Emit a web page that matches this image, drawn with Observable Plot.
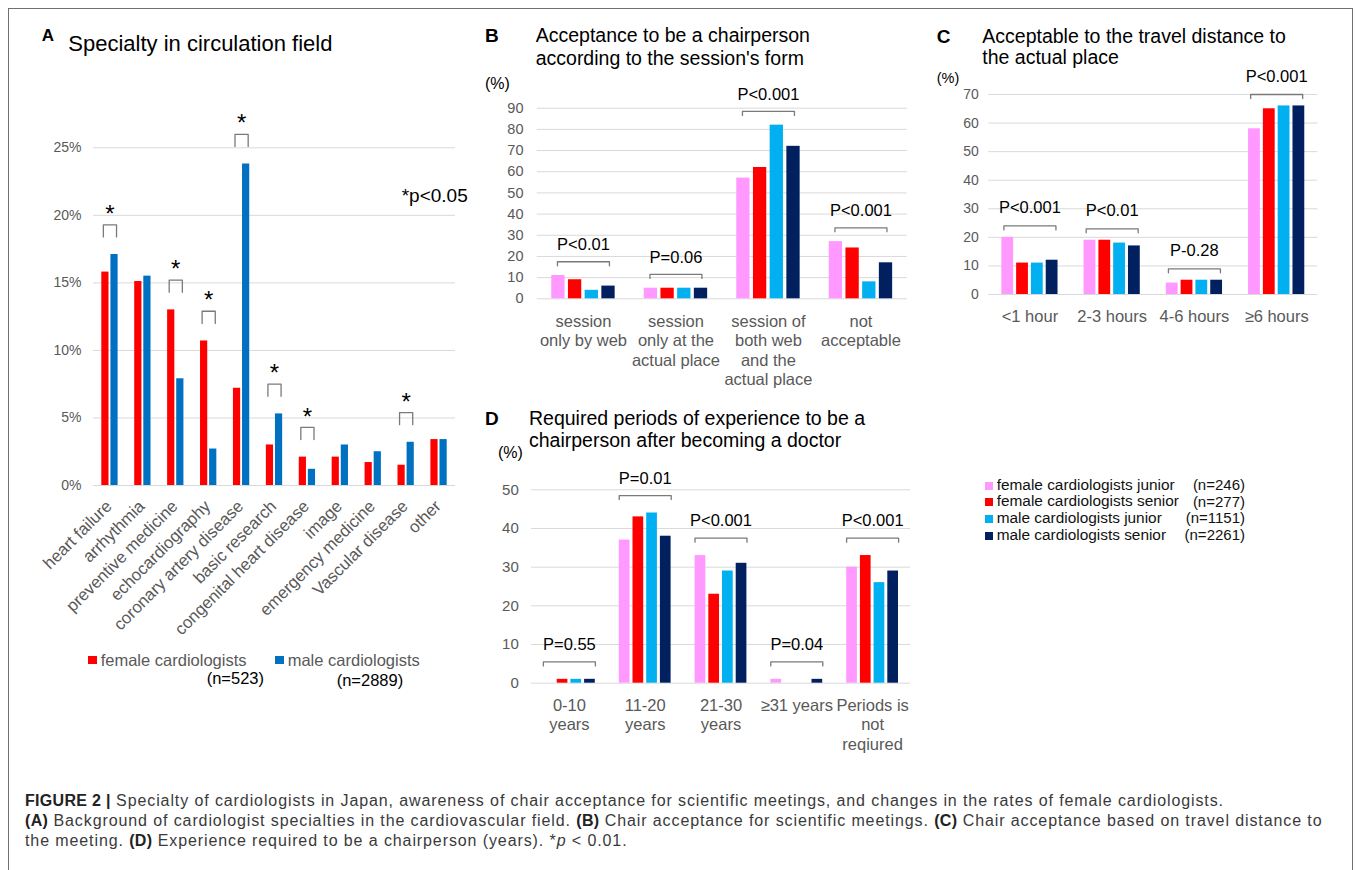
<!DOCTYPE html>
<html><head><meta charset="utf-8">
<script src="https://cdn.jsdelivr.net/npm/d3@7"></script>
<script src="https://cdn.jsdelivr.net/npm/@observablehq/plot@0.6"></script>
<style>
body{margin:0;background:#fff;}
#root{position:relative;width:1357px;height:870px;overflow:hidden;font-family:"Liberation Sans",Arial,Helvetica,sans-serif;background:#fff;}
#frame{position:absolute;left:8px;top:8px;width:1345px;height:900px;border:1px solid #707070;box-sizing:border-box;}
#root svg{overflow:visible;display:block;}
</style></head>
<body><div id="root"><div id="frame"></div></div>
<script>
// ---------- DATA ----------
// Panel A
const specialtyCategories = ["heart failure","arrhythmia","preventive medicine","echocardiography","coronary artery disease","basic research","congenital heart disease","image","emergency medicine","Vascular disease","other"];
const femaleSpecialty = [15.8,15.1,13.0,10.7,7.2,3.0,2.1,2.1,1.7,1.5,3.4];
const maleSpecialty   = [17.1,15.5,7.9,2.7,23.8,5.3,1.2,3.0,2.5,3.2,3.4];
const specialtySignificant = [true,false,true,true,true,true,true,false,false,true,false];
const specialtyTicks = [0,5,10,15,20,25];
const specialtySeries = ["female cardiologists","male cardiologists"];
const specialtyN = ["(n=523)","(n=2889)"];

// Groups for panels B-D
const groupNames = ["female cardiologists junior","female cardiologists senior","male cardiologists junior","male cardiologists senior"];
const groupN = ["(n=246)","(n=277)","(n=1151)","(n=2261)"];

// Panel B
const sessionCategories = ["session\nonly by web","session\nonly at the\nactual place","session of\nboth web\nand the\nactual place","not\nacceptable"];
const sessionFemaleJunior = [11,5,57,27];
const sessionFemaleSenior = [9,5,62,24];
const sessionMaleJunior   = [4,5,82,8];
const sessionMaleSenior   = [6,5,72,17];
const sessionP = ["P<0.01","P=0.06","P<0.001","P<0.001"];
const sessionTicks = [0,10,20,30,40,50,60,70,80,90];

// Panel C
const travelCategories = ["<1 hour","2-3 hours","4-6 hours","≥6 hours"];
const travelFemaleJunior = [20,19,4,58];
const travelFemaleSenior = [11,19,5,65];
const travelMaleJunior   = [11,18,5,66];
const travelMaleSenior   = [12,17,5,66];
const travelP = ["P<0.001","P<0.01","P-0.28","P<0.001"];
const travelTicks = [0,10,20,30,40,50,60,70];

// Panel D
const experienceCategories = ["0-10\nyears","11-20\nyears","21-30\nyears","≥31 years","Periods is\nnot\nreqiured"];
const expFemaleJunior = [0,37,33,1,30];
const expFemaleSenior = [1,43,23,0,33];
const expMaleJunior   = [1,44,29,0,26];
const expMaleSenior   = [1,38,31,1,29];
const experienceP = ["P=0.55","P=0.01","P<0.001","P=0.04","P<0.001"];
const experienceTicks = [0,10,20,30,40,50];

// ---------- STYLE ----------
const colorsA = ["#FF0000","#0070C0"];
const colors4 = ["#FF99FF","#FF0000","#00B0F0","#002060"];
const FONT = '"Liberation Sans", Arial, Helvetica, sans-serif';
const root = document.getElementById("root");

function place(node, left, top) {
  const d = document.createElement("div");
  d.style.cssText = `position:absolute;left:${left}px;top:${top}px;`;
  d.appendChild(node);
  root.appendChild(d);
}
function addText(html, x, base, size, o = {}) {
  const lh = o.lh || size;
  const d = document.createElement("div");
  const top = base - ((lh - 1.117 * size) / 2 + 0.905 * size);
  d.style.cssText = `position:absolute;white-space:nowrap;left:${x}px;top:${top}px;font-size:${size}px;line-height:${lh}px;color:${o.color || "#000"};font-weight:${o.bold ? "bold" : "normal"};${o.right ? "transform:translateX(-100%);" : ""}`;
  d.innerHTML = html;
  root.appendChild(d);
}
function addSquare(x, y, s, color) {
  const d = document.createElement("div");
  d.style.cssText = `position:absolute;left:${x}px;top:${y}px;width:${s}px;height:${s}px;background:${color};`;
  root.appendChild(d);
}

function panel(cfg) {
  const {cats, series, colors, ticks, fmt, left, top, width, height, ml, mr, mt, mb,
         barPx, stepPx, tickPad, tickFont, extra} = cfg;
  const n = cats.length, k = series.length;
  const bandPx = (width - ml - mr) / n;
  const yMax = ticks[ticks.length - 1];
  const pxPerUnit = (height - mt - mb) / yMax;
  const marks = [Plot.ruleY(ticks, {stroke: "#d9d9d9", strokeWidth: 1})];
  series.forEach((vals, s) => {
    const off = (s - (k - 1) / 2) * stepPx / bandPx, hw = barPx / 2 / bandPx;
    marks.push(Plot.rectY(vals, {
      x1: (d, i) => i + off - hw, x2: (d, i) => i + off + hw,
      y1: () => 0, y2: d => d, fill: colors[s]
    }));
  });
  const maxes = cats.map((c, i) => d3.max(series, v => v[i]));
  marks.push(...extra({n, bandPx, pxPerUnit, maxes}));
  const svg = Plot.plot({
    width, height, marginLeft: ml, marginRight: mr, marginTop: mt, marginBottom: mb,
    x: {domain: [-0.5, n - 0.5], axis: null},
    y: {domain: [0, yMax], ticks, tickFormat: fmt, tickSize: 0, tickPadding: tickPad, label: null},
    style: {fontFamily: FONT, fontSize: tickFont + "px", color: "#595959", background: "transparent", overflow: "visible"},
    marks
  });
  place(svg, left, top);
}

// P-value brackets for panels B-D
function pBrackets(cats, pvals, {offset, halfPx = 26, legPx = 4, textDy, labelDy, labelLH = 1.17, labelFont = 16.5}) {
  return ({bandPx, pxPerUnit, maxes}) => {
    const h = halfPx / bandPx, leg = legPx / pxPerUnit;
    const pts = [];
    maxes.forEach((m, i) => {
      const lv = m + offset;
      pts.push({i, x: i - h, y: lv - leg}, {i, x: i - h, y: lv}, {i, x: i + h, y: lv}, {i, x: i + h, y: lv - leg});
    });
    return [
      Plot.line(pts, {x: "x", y: "y", z: "i", stroke: "#7a7a7a", strokeWidth: 1.3}),
      Plot.text(pvals, {x: (d, i) => i, y: (d, i) => maxes[i] + offset, text: d => d, dy: textDy,
        fontSize: 16.5, fill: "#000", lineAnchor: "middle"}),
      Plot.text(cats, {x: (d, i) => i, y: () => 0, text: d => d, dy: labelDy, lineAnchor: "top",
        lineHeight: labelLH, fontSize: labelFont, fill: "#595959"})
    ];
  };
}

// ---------- PANEL A ----------
panel({
  cats: specialtyCategories, series: [femaleSpecialty, maleSpecialty], colors: colorsA,
  ticks: specialtyTicks, fmt: d => d + "%",
  left: 20, top: 100, width: 460, height: 560, ml: 73, mr: 25, mt: 47.3, mb: 175,
  barPx: 7.2, stepPx: 9.1, tickPad: 12, tickFont: 14,
  extra: ({bandPx, maxes}) => {
    const h = 0.2;
    const pts = [];
    const stars = [];
    specialtySignificant.forEach((sig, i) => {
      if (!sig) return;
      const m = maxes[i];
      pts.push({i, x: i - h, y: m + 1.3}, {i, x: i - h, y: m + 2.2}, {i, x: i + h, y: m + 2.2}, {i, x: i + h, y: m + 1.3});
      stars.push({i, y: m + 3.5});
    });
    return [
      Plot.line(pts, {x: "x", y: "y", z: "i", stroke: "#7a7a7a", strokeWidth: 1.3}),
      Plot.text(stars, {x: "i", y: "y", text: () => "*", fontSize: 24, dy: 7, fill: "#000"}),
      Plot.text(specialtyCategories, {x: (d, i) => i, y: () => 0, text: d => d, rotate: -45,
        textAnchor: "end", lineAnchor: "middle", dx: -1, dy: 18, fontSize: 16.8, fill: "#595959"})
    ];
  }
});

// ---------- PANEL B ----------
panel({
  cats: sessionCategories, series: [sessionFemaleJunior, sessionFemaleSenior, sessionMaleJunior, sessionMaleSenior],
  colors: colors4, ticks: sessionTicks, fmt: d => d,
  left: 480, top: 60, width: 440, height: 340, ml: 56.7, mr: 13.3, mt: 47.7, mb: 101.7,
  barPx: 13.3, stepPx: 16.7, tickPad: 13.7, tickFont: 14.5,
  extra: pBrackets(sessionCategories, sessionP, {offset: 6.5, textDy: -17, labelDy: 14.3, labelLH: 1.176})
});

// ---------- PANEL C ----------
panel({
  cats: travelCategories, series: [travelFemaleJunior, travelFemaleSenior, travelMaleJunior, travelMaleSenior],
  colors: colors4, ticks: travelTicks, fmt: d => d,
  left: 920, top: 60, width: 430, height: 280, ml: 68.3, mr: 32.7, mt: 34, mb: 46,
  barPx: 11.8, stepPx: 14.8, tickPad: 10, tickFont: 14,
  extra: pBrackets(travelCategories, travelP, {offset: 4, textDy: -18, labelDy: 13.5})
});

// ---------- PANEL D ----------
panel({
  cats: experienceCategories, series: [expFemaleJunior, expFemaleSenior, expMaleJunior, expMaleSenior],
  colors: colors4, ticks: experienceTicks, fmt: d => d,
  left: 480, top: 455, width: 440, height: 305, ml: 51, mr: 10, mt: 34.3, mb: 77.3,
  barPx: 10.7, stepPx: 13.7, tickPad: 12.7, tickFont: 15,
  extra: pBrackets(experienceCategories, experienceP, {offset: 4.5, textDy: -17, labelDy: 13.9, labelLH: 1.18})
});

// ---------- TITLES ----------
addText("A", 41.7, 41.7, 17, {bold: true});
addText("Specialty in circulation field", 68.3, 51.7, 22);
addText("*p&lt;0.05", 401.7, 202.5, 19);

addText("B", 485, 42.3, 19, {bold: true});
addText("Acceptance to be a chairperson<br>according to the session's form", 535.7, 42.3, 19.5, {lh: 22.7});
addText("(%)", 485, 90, 16);

addText("C", 936.7, 43.3, 19, {bold: true});
addText("Acceptable to the travel distance to<br>the actual place", 982.3, 43.3, 19.5, {lh: 21.7});
addText("(%)", 936.7, 83.7, 14.5);

addText("D", 485, 425, 19, {bold: true});
addText("Required periods of experience to be a<br>chairperson after becoming a doctor", 529, 425, 19.5, {lh: 22.3});
addText("(%)", 498, 458.3, 16);

// ---------- LEGEND A ----------
const legAx = [88, 275], legAnx = [206.7, 336.7], legAnb = [683.8, 685.8];
specialtySeries.forEach((name, s) => {
  addSquare(legAx[s], 655.7, 8.5, colorsA[s]);
  addText(name, legAx[s] + 12.7, 665.7, 16.5, {color: "#595959"});
  addText(specialtyN[s], legAnx[s], legAnb[s], 16.5, {color: "#000"});
});

// ---------- LEGEND B-D ----------
groupNames.forEach((name, s) => {
  const base = 489.7 + s * 16.7;
  addSquare(985, base - 8.2, 8.3, colors4[s]);
  addText(name, 996.7, base, 15.4, {color: "#111"});
  addText(groupN[s], 1245, base, 15, {color: "#111", right: true});
});

// ---------- CAPTION ----------
const capSize = 16;
const cap = document.createElement("div");
cap.style.cssText = "position:absolute;left:25px;top:" + (806.5 - ((20 - 1.117*capSize)/2 + 0.905*capSize)) + "px;font-size:" + capSize + "px;letter-spacing:0.9px;line-height:20px;color:#3a3a3a;white-space:nowrap;";
cap.innerHTML = "<b style='color:#222;letter-spacing:0.3px'>FIGURE 2 |</b> Specialty of cardiologists in Japan, awareness of chair acceptance for scientific meetings, and changes in the rates of female cardiologists.<br>" +
  "<b style='color:#222;letter-spacing:0.3px'>(A)</b> Background of cardiologist specialties in the cardiovascular field. <b style='color:#222;letter-spacing:0.3px'>(B)</b> Chair acceptance for scientific meetings. <b style='color:#222;letter-spacing:0.3px'>(C)</b> Chair acceptance based on travel distance to<br>" +
  "the meeting. <b style='color:#222;letter-spacing:0.3px'>(D)</b> Experience required to be a chairperson (years). *<i>p</i> &lt; 0.01.";
root.appendChild(cap);
</script>
</body></html>
